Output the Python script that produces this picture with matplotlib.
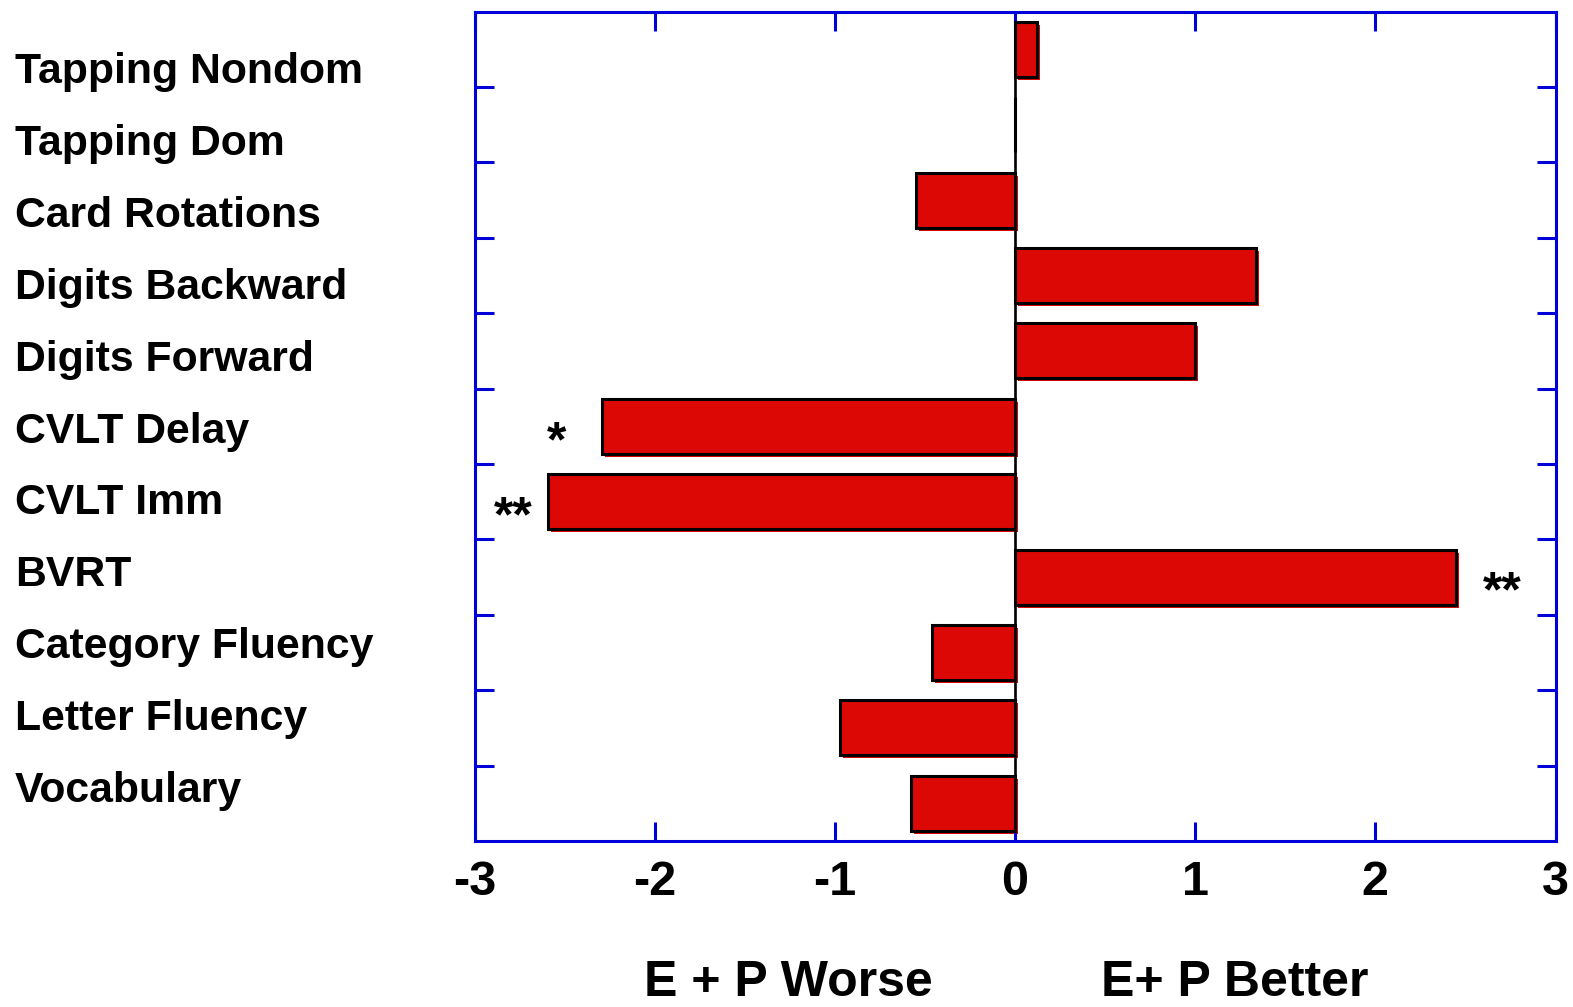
import matplotlib
matplotlib.use("Agg")
import matplotlib.pyplot as plt
from matplotlib.transforms import ScaledTranslation
import numpy as np

# Effect of E + P versus placebo on each cognitive test (standardised difference)
tests = ["Tapping Nondom", "Tapping Dom", "Card Rotations", "Digits Backward",
         "Digits Forward", "CVLT Delay", "CVLT Imm", "BVRT",
         "Category Fluency", "Letter Fluency", "Vocabulary"]
effects = [0.12, 0.0, -0.55, 1.34, 1.00, -2.29, -2.59, 2.45, -0.46, -0.97, -0.58]

# significance markers: (test, label, horizontal offset from bar end in px)
stars = [("CVLT Delay", "*", -46), ("CVLT Imm", "**", -35), ("BVRT", "**", 46)]

xticks = [-3, -2, -1, 0, 1, 2, 3]
side_labels = ["E + P Worse", "E+ P Better"]

FONT = "Liberation Sans"
BLUE = "#0000d8"
RED = "#dc0806"
W, H, DPI = 1573, 1007, 100

fig = plt.figure(figsize=(W / DPI, H / DPI), dpi=DPI)
ax_l, ax_r, ax_t, ax_b = 474.5, 1555.5, 11.7, 841.0
ax = fig.add_axes([ax_l / W, (H - ax_b) / H, (ax_r - ax_l) / W, (ax_b - ax_t) / H])

n = len(tests)
ypos = np.arange(n)
bar_h = 0.73

# red fill spills a few pixels past the outline to the lower right
shift = ScaledTranslation(3 / DPI, -3 / DPI, fig.dpi_scale_trans)
ax.barh(ypos, effects, height=bar_h, color=RED, linewidth=0, zorder=2)
spill = ax.barh(ypos, effects, height=bar_h, color=RED, linewidth=0, zorder=2)
for p in spill:
    p.set_transform(ax.transData + shift)
ax.barh(ypos, effects, height=bar_h, fill=False, edgecolor="black",
        linewidth=2.2, zorder=3)

ax.axvline(0, color="black", linewidth=1.9, zorder=2.4)

ax.set_xlim(-3, 3)
ax.set_ylim(n - 0.5, -0.5)

ax.set_xticks(xticks)
ax.set_xticklabels([str(t) for t in xticks])
ax.set_yticks(np.arange(n - 1) + 0.5)
ax.set_yticklabels([])

ax.tick_params(axis="both", direction="in", length=14, width=2.2, color=BLUE,
               top=True, bottom=True, left=True, right=True)
ax.tick_params(axis="x", pad=14, labelsize=35)
for lab in ax.get_xticklabels():
    lab.set_fontfamily(FONT)
    lab.set_fontweight("bold")

for s in ax.spines.values():
    s.set_color(BLUE)
    s.set_linewidth(2.2)
ax.set_axisbelow(False)

# category names down the left side
base0, step = 82.7, 71.96
for i, name in enumerate(tests):
    fig.text(15 / W, 1 - (base0 + i * step) / H, name, fontsize=30.8,
             fontweight="bold", family=FONT, ha="left", va="baseline")

# significance stars
for name, label, dx in stars:
    i = tests.index(name)
    ax.annotate(label, xy=(effects[i], i), xytext=(dx * 0.72, -12),
                textcoords="offset points", ha="center", va="center",
                fontsize=36, fontweight="bold", family=FONT, zorder=4)

# direction captions under the axis
for cx, txt in zip([788.5, 1235.0], side_labels):
    fig.text(cx / W, 1 - 996 / H, txt, fontsize=36, fontweight="bold",
             family=FONT, ha="center", va="baseline")

fig.savefig("out.png", dpi=DPI)
